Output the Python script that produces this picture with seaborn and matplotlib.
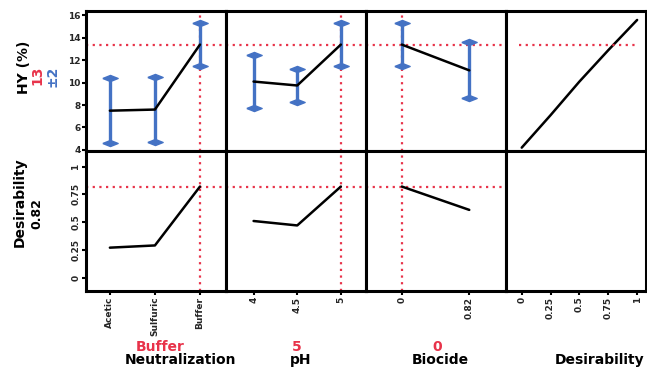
import numpy as np
import pandas as pd
import seaborn as sns
import matplotlib.pyplot as plt

# profiler values
neut_levels = ["Acetic", "Sulfuric", "Buffer"]
neut_hy = [7.5, 7.6, 13.4]
neut_err = [2.9, 2.9, 1.95]
neut_des = [0.27, 0.29, 0.82]

ph_levels = [4, 4.5, 5]
ph_hy = [10.1, 9.75, 13.4]
ph_err = [2.4, 1.5, 1.95]
ph_des = [0.51, 0.47, 0.82]

bio_levels = [0, 0.82]
bio_hy = [13.4, 11.1]
bio_err = [1.95, 2.5]
bio_des = [0.82, 0.61]

des_x = [0, 0.25, 0.5, 0.75, 1]
des_hy = [4.2, 7.1, 10.1, 12.9, 15.6]

hy_current = 13.4
des_current = 0.82
factor_names = ["Neutralization", "pH", "Biocide", "Desirability"]
factor_settings = ["Buffer", "5", "0", ""]

sns.set_theme(style="white")
plt.rcParams['font.family'] = ['Liberation Sans Narrow', 'DejaVu Sans']
plt.rcParams['font.weight'] = 'bold'

RED = "#e8334a"
BLUE = "#4472c4"
W, H = 647, 371

fig = plt.figure(figsize=(6.47, 3.71), dpi=100)
gs = fig.add_gridspec(2, 4, left=86/W, right=0.999, top=1-11/H, bottom=1-291/H,
                      wspace=0, hspace=0)
axes = np.array([[fig.add_subplot(gs[r, c]) for c in range(4)] for r in range(2)])

cap_marker = [(-1, 0), (0, 0.4), (1, 0), (0, -0.4), (-1, 0)]

panels = [
    (np.arange(len(neut_levels)), neut_hy, neut_err, neut_des, (-0.53, 2.58)),
    (np.array(ph_levels), ph_hy, ph_err, ph_des, (3.685, 5.29)),
    (np.array(bio_levels), bio_hy, bio_err, bio_des, (-0.434, 1.27)),
]
current_x = [2, 5, 0]

for c, (xs, hy, err, des, xl) in enumerate(panels):
    top = axes[0, c]
    bot = axes[1, c]
    df = pd.DataFrame({"x": xs, "hy": hy, "err": err, "des": des})
    top.vlines(df["x"], df["hy"] - df["err"], df["hy"] + df["err"], color=BLUE, lw=2.4, zorder=2)
    top.plot(df["x"], df["hy"] + df["err"], ls="none", marker=cap_marker, ms=11, color=BLUE, zorder=2)
    top.plot(df["x"], df["hy"] - df["err"], ls="none", marker=cap_marker, ms=11, color=BLUE, zorder=2)
    sns.lineplot(data=df, x="x", y="hy", ax=top, color="black", lw=1.8, zorder=3)
    sns.lineplot(data=df, x="x", y="des", ax=bot, color="black", lw=1.8, zorder=3)
    for ax in (top, bot):
        ax.axvline(current_x[c], color=RED, ls=(0, (1, 2)), lw=1.6, zorder=1)
        ax.set_xlim(*xl)
    top.axhline(hy_current, color=RED, ls=(0, (1, 2)), lw=1.6, zorder=1)
    bot.axhline(des_current, color=RED, ls=(0, (1, 2)), lw=1.6, zorder=1)

# desirability column
dd = pd.DataFrame({"d": des_x, "hy": des_hy})
sns.lineplot(data=dd, x="d", y="hy", ax=axes[0, 3], color="black", lw=1.8)
axes[0, 3].axhline(hy_current, xmin=0.09, xmax=0.95, color=RED, ls=(0, (1, 2)), lw=1.6)
for r in range(2):
    axes[r, 3].set_xlim(-0.134, 1.08)

for ax in axes.flat:
    for s in ax.spines.values():
        s.set_color("black")
        s.set_linewidth(2.2)
    ax.set_xlabel("")
    ax.set_ylabel("")
    ax.tick_params(length=3, width=1.5, color="black", labelsize=6.5, pad=1)
for ax in axes[0]:
    ax.set_ylim(3.9, 16.4)
    ax.set_xticks([])
for ax in axes[1]:
    ax.set_ylim(-0.12, 1.14)

axes[0, 0].set_yticks([4, 6, 8, 10, 12, 14, 16])
axes[0, 0].tick_params(axis="y", left=True)
axes[1, 0].set_yticks([0, 0.25, 0.5, 0.75, 1])
axes[1, 0].set_yticklabels(["0", "0.25", "0.5", "0.75", "1"], rotation=90, va="center")
axes[1, 0].tick_params(axis="y", left=True)
for c in range(1, 4):
    axes[0, c].set_yticks([])
    axes[1, c].set_yticks([])

xtick_sets = [
    (np.arange(len(neut_levels)), neut_levels),
    (ph_levels, ["4", "4.5", "5"]),
    (bio_levels, ["0", "0.82"]),
    (des_x, ["0", "0.25", "0.5", "0.75", "1"]),
]
for c, (pos, labs) in enumerate(xtick_sets):
    axes[1, c].set_xticks(pos)
    axes[1, c].set_xticklabels(labs, rotation=90)
    axes[1, c].tick_params(axis="x", bottom=True)

for ax in axes.flat:
    for lab in ax.get_xticklabels() + ax.get_yticklabels():
        lab.set_fontweight("bold")


def ftext(x, y, s, **kw):
    fig.text(x / W, 1 - y / H, s, ha="center", va="center", fontweight="bold", **kw)


ftext(24, 67, "HY (%)", rotation=90, fontsize=10, color="black")
ftext(37, 75, "13", rotation=90, fontsize=10, color=RED)
ftext(52, 76, "±2", rotation=90, fontsize=10, color=BLUE)
ftext(20, 202, "Desirability", rotation=90, fontsize=10, color="black")
ftext(37, 214, "0.82", rotation=90, fontsize=9, color="black")

name_x = [180, 301, 440, 600]
set_x = [160, 297, 437, 600]
for i in range(4):
    if factor_settings[i]:
        ftext(set_x[i], 347, factor_settings[i], fontsize=10, color=RED)
    ftext(name_x[i], 360, factor_names[i], fontsize=10, color="black")

fig.savefig("out.png", dpi=100)
